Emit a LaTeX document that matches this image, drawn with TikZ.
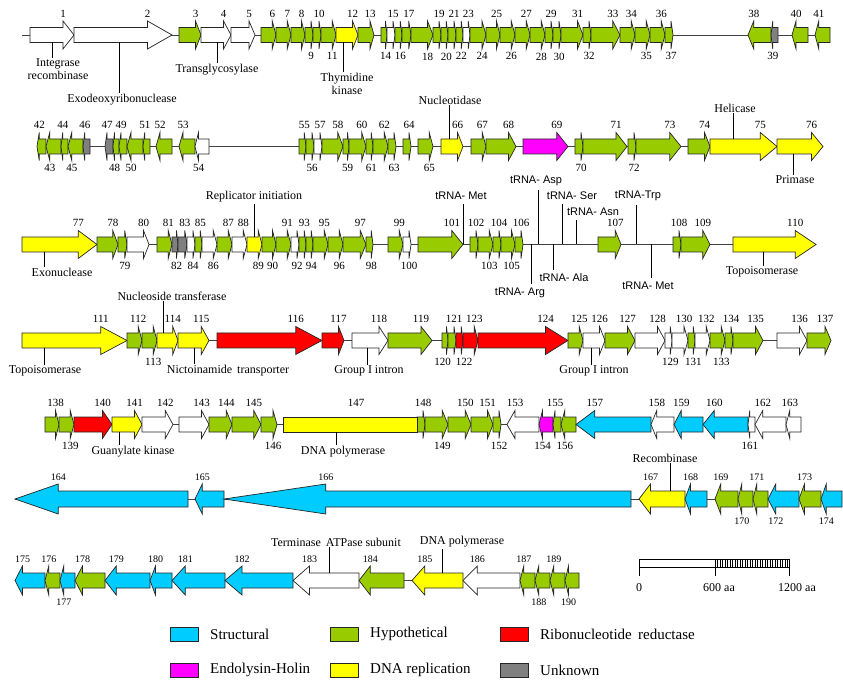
\documentclass[tikz,border=0pt]{standalone}
\usepackage{fontspec}
\setmainfont{Liberation Serif}
\newfontfamily\arialf{Liberation Sans}
\definecolor{gG}{HTML}{99CC00}
\definecolor{gY}{HTML}{FFFF00}
\definecolor{gR}{HTML}{FF0000}
\definecolor{gM}{HTML}{FF00FF}
\definecolor{gK}{HTML}{808080}
\definecolor{gC}{HTML}{00CCFF}
\definecolor{gW}{HTML}{FFFFFF}
\newcommand\rowy{0}
\newcommand\bodyh{7.5}
\newcommand\headh{14}
\newcommand\labgap{3}
\newcommand\numfont{\fontsize{11}{12}\selectfont}
\newcommand\gene[6]{%
  \pgfmathsetmacro\gHd{0.25*(#2-#1)}%
  \if#4r\pgfmathsetmacro\gB{#2-\gHd}\pgfmathsetmacro\gS{#1}\pgfmathsetmacro\gT{#2}%
  \else\pgfmathsetmacro\gB{#1+\gHd}\pgfmathsetmacro\gS{#2}\pgfmathsetmacro\gT{#1}\fi
  \draw[genebox,fill=#3] (\gS,\rowy-\bodyh) -- (\gB,\rowy-\bodyh) -- (\gB,\rowy-\headh) -- (\gT,\rowy) -- (\gB,\rowy+\headh) -- (\gB,\rowy+\bodyh) -- (\gS,\rowy+\bodyh) -- cycle;
  \if#6a\node[num,anchor=south] (n#5) at (\gB,\rowy-\headh-\labgap) {#5};\fi
  \if#6b\node[num,anchor=north] (n#5) at (\gB,\rowy+\headh+\labgap) {#5};\fi
}
\begin{document}
\begin{tikzpicture}[x=1pt,y=-1pt,
  genebox/.style={draw=black!85,line width=0.7pt,line join=miter},
  num/.style={font=\numfont,inner sep=0.5pt},
  ann/.style={font=\fontsize{12}{13}\selectfont,inner sep=1pt,align=center},
  trna/.style={font=\arialf\fontsize{11}{12}\selectfont,inner sep=1pt},
  lead/.style={draw=black,line width=0.7pt},
  bb/.style={draw=black!75,line width=0.8pt},
  leg/.style={font=\fontsize{15}{16}\selectfont,anchor=west,inner sep=0pt},
  legbox/.style={draw=black!85,line width=0.7pt}]
\fill[white] (0,0) rectangle (843,684);
\useasboundingbox (0,0) rectangle (843,684);

% ---------- Row 1 ----------
\renewcommand\rowy{35}
\draw[bb] (22,\rowy) -- (830,\rowy);
\foreach \ga/\gb/\gc/\gd/\gn/\gp in {30/74/gW/r/1/a, 74/172/gW/r/2/a, 179/201/gG/r/3/a, 201/231/gW/r/4/a, 231/255/gW/r/5/a, 261/276/gG/r/6/a, 276/291/gG/r/7/a, 291/305/gG/r/8/a, 305/313/gG/r/9/b, 313/321/gG/r/10/a, 321/336/gG/r/11/b, 336/358/gY/r/12/a, 358/374/gG/r/13/a, 381/387/gG/r/14/b, 387/395/gW/r/15/a, 395/402/gG/r/16/b, 402/411/gG/r/17/a, 411/433/gG/r/18/b, 433/441/gG/r/19/a, 441/448/gG/r/20/b, 448/456/gG/r/21/a, 456/463/gG/r/22/b, 463/470/gW/r/23/a, 470/486/gG/r/24/b, 486/500/gG/r/25/a, 500/515/gG/r/26/b, 515/530/gG/r/27/a, 530/545/gG/r/28/b, 545/553/gG/r/29/a, 553/561/gG/r/30/b, 561/583/gG/r/31/a, 583/591/gG/r/32/b, 591/620/gG/r/33/a, 620/635/gG/r/34/a, 635/650/gG/r/35/b, 650/665/gG/r/36/a, 665/673/gG/r/37/b, 748/771/gG/l/38/a, 771/778/gK/l/39/b, 792/808/gG/l/40/a, 815/830/gG/l/41/a}
  {\gene{\ga}{\gb}{\gc}{\gd}{\gn}{\gp}}

\node[ann] (intg) at (58,69.5) {Integrase\\recombinase};
\coordinate (intgA) at (52,42.5);
\draw[lead] (intgA) -- (intgA |- intg.north);
\node[ann] (exod) at (122,100) {Exodeoxyribonuclease};
\coordinate (exodA) at (119,42.5);
\draw[lead] (exodA) -- (exodA |- exod.north);
\node[ann] (trgl) at (217,70) {Transglycosylase};
\coordinate (trglA) at (217,42.5);
\draw[lead] (trglA) -- (trglA |- trgl.north);
\node[ann] (thym) at (347,84) {Thymidine\\kinase};
\coordinate (thymA) at (343,42.5);
\draw[lead] (thymA) -- (thymA |- thym.north);

% ---------- Row 2 ----------
\renewcommand\rowy{146.5}
\draw[bb] (37,\rowy) -- (823,\rowy);
\foreach \ga/\gb/\gc/\gd/\gn/\gp in {37/46/gG/l/42/a, 46/61/gG/l/43/b, 61/68/gG/l/44/a, 68/83/gG/l/45/b, 83/90/gK/l/46/a, 105/113/gK/l/47/a, 113/119/gG/l/48/b, 119/127/gG/l/49/a, 127/143/gG/l/50/b, 143/150/gG/l/51/a, 156/172/gG/l/52/a, 179/195/gG/l/53/a, 195/209/gW/l/54/b, 299/306/gG/r/55/a, 306/314/gG/r/56/b, 314/322/gW/r/57/a, 322/343/gG/r/58/a, 343/349/gG/r/59/b, 349/366/gG/r/60/a, 366/373/gG/r/61/b, 373/388/gG/r/62/a, 388/396/gG/r/63/b, 403/411/gG/r/64/a, 418/433/gG/r/65/b, 441/463/gY/r/66/a, 471/486/gG/r/67/a, 486/516/gG/r/68/a, 523/568/gM/r/69/a, 575/583/gG/r/70/b, 583/627/gG/r/71/a, 628/636/gG/r/72/b, 636/681/gG/r/73/a, 688/710/gG/r/74/a, 710/777/gY/r/75/a, 777/823/gY/r/76/a}
  {\gene{\ga}{\gb}{\gc}{\gd}{\gn}{\gp}}

\node[ann] (nucl) at (450,100) {Nucleotidase};
\coordinate (nuclA) at (449,139);
\draw[lead] (nuclA) -- (nuclA |- nucl.south);
\node[ann] (heli) at (735,108) {Helicase};
\coordinate (heliA) at (733,139);
\draw[lead] (heliA) -- (heliA |- heli.south);
\node[ann] (prim) at (795,180) {Primase};
\coordinate (primA) at (793,154);
\draw[lead] (primA) -- (primA |- prim.north);

% ---------- Row 3 ----------
\renewcommand\rowy{244.5}
\draw[bb] (22,\rowy) -- (816,\rowy);
\foreach \ga/\gb/\gc/\gd/\gn/\gp in {22/97/gY/r/77/a, 97/118/gG/r/78/a, 118/127/gG/r/79/b, 127/149/gW/r/80/a, 157/172/gG/r/81/a, 172/178/gK/r/82/b, 178/187/gK/r/83/a, 187/195/gW/r/84/b, 195/202/gG/r/85/a, 202/217/gW/r/86/b, 217/232/gG/r/87/a, 232/247/gW/r/88/a, 247/262/gY/r/89/b, 262/276/gG/r/90/b, 276/291/gG/r/91/a, 291/299/gW/r/92/b, 299/306/gG/r/93/a, 306/313/gG/r/94/b, 313/328/gG/r/95/a, 328/343/gG/r/96/b, 343/366/gG/r/97/a, 366/373/gG/r/98/b, 388/403/gG/r/99/a, 403/411/gW/r/100/b, 418/463/gG/r/101/a, 470/478/gG/r/102/a, 478/493/gG/r/103/b, 493/501/gG/r/104/a, 501/515/gG/r/105/b, 515/523/gG/r/106/a, 598/621/gG/r/107/a, 673/681/gG/r/108/a, 681/710/gG/r/109/a, 733/816/gY/r/110/a}
  {\gene{\ga}{\gb}{\gc}{\gd}{\gn}{\gp}}

\node[ann] (exon) at (62,272) {Exonuclease};
\coordinate (exonA) at (44,252);
\draw[lead] (exonA) -- (exonA |- exon.north);
\node[ann] (repl) at (254,197) {Replicator initiation};
\coordinate (replA) at (254,237);
\draw[lead] (replA) -- (replA |- repl.south);
\node[ann] (topo1) at (762,272) {Topoisomerase};
\coordinate (topo1A) at (763,252);
\draw[lead] (topo1A) -- (topo1A |- topo1.north);

\node[trna] (tmet1) at (461,196) {tRNA- Met};
\coordinate (tmet1A) at (463,244.5);
\draw[lead] (tmet1A) -- ([yshift=-3pt]tmet1A |- tmet1.south);
\node[trna] (tasp) at (536,181) {tRNA- Asp};
\coordinate (taspA) at (538,244.5);
\draw[lead] (taspA) -- ([yshift=-3pt]taspA |- tasp.south);
\node[trna] (targ) at (520,293) {tRNA- Arg};
\coordinate (targA) at (531,244.5);
\draw[lead] (targA) -- ([yshift=3pt]targA |- targ.north);
\node[trna] (tser) at (572,196) {tRNA- Ser};
\coordinate (tserA) at (562,244.5);
\draw[lead] (tserA) -- ([yshift=-3pt]tserA |- tser.south);
\node[trna] (tala) at (564,278) {tRNA- Ala};
\coordinate (talaA) at (553,244.5);
\draw[lead] (talaA) -- ([yshift=3pt]talaA |- tala.north);
\node[trna] (tasn) at (593,212) {tRNA- Asn};
\coordinate (tasnA) at (576,244.5);
\draw[lead] (tasnA) -- ([yshift=-3pt]tasnA |- tasn.south);
\node[trna] (ttrp) at (638,196) {tRNA-Trp};
\coordinate (ttrpA) at (636,244.5);
\draw[lead] (ttrpA) -- ([yshift=-3pt]ttrpA |- ttrp.south);
\node[trna] (tmet2) at (648,286) {tRNA- Met};
\coordinate (tmet2A) at (651,244.5);
\draw[lead] (tmet2A) -- ([yshift=3pt]tmet2A |- tmet2.north);

% ---------- Row 4 ----------
\renewcommand\rowy{340.5}
\draw[bb] (22,\rowy) -- (831,\rowy);
\foreach \ga/\gb/\gc/\gd/\gn/\gp in {22/127/gY/r/111/a, 127/142/gG/r/112/a, 142/157/gG/r/113/b, 157/178/gY/r/114/a, 178/209/gY/r/115/a, 217/322/gR/r/116/a, 322/344/gR/r/117/a, 352/388/gW/r/118/a, 388/432/gG/r/119/a, 442/448/gG/r/120/n, 448/456/gG/r/121/a, 456/463/gR/r/122/n, 463/478/gR/r/123/a, 478/568/gR/r/124/a, 568/583/gG/r/125/a, 583/605/gW/r/126/a, 605/635/gG/r/127/a, 635/665/gW/r/128/a, 665/672/gW/r/129/b, 672/688/gW/r/130/a, 688/695/gG/r/131/b, 695/710/gW/r/132/a, 710/725/gG/r/133/b, 725/733/gG/r/134/a, 733/763/gG/r/135/a, 777/807/gW/r/136/a, 807/831/gG/r/137/a}
  {\gene{\ga}{\gb}{\gc}{\gd}{\gn}{\gp}}
\node[num,anchor=north] (n120) at (442.5,\rowy+\headh+\labgap) {120};
\node[num,anchor=north] (n122) at (464,\rowy+\headh+\labgap) {122};

\node[ann] (topo2) at (45,371) {Topoisomerase};
\coordinate (topo2A) at (44,348);
\draw[lead] (topo2A) -- (topo2A |- topo2.north);
\node[ann] (nstr) at (172,296) {Nucleoside transferase};
\coordinate (nstrA) at (163,333);
\draw[lead] (nstrA) -- (nstrA |- nstr.south);
\node[ann] (nict) at (228,371) {Nictoinamide\, transporter};
\coordinate (nictA) at (194,348);
\draw[lead] (nictA) -- (nictA |- nict.north);
\node[ann] (gi1) at (369,371) {Group I intron};
\coordinate (gi1A) at (367,348);
\draw[lead] (gi1A) -- (gi1A |- gi1.north);
\node[ann] (gi2) at (594,371) {Group I intron};
\coordinate (gi2A) at (591,348);
\draw[lead] (gi2A) -- (gi2A |- gi2.north);

% ---------- Row 5 ----------
\renewcommand\rowy{424.5}
\draw[bb] (45,\rowy) -- (801,\rowy);
\foreach \ga/\gb/\gc/\gd/\gn/\gp in {45/59/gG/r/138/a, 59/74/gG/r/139/b, 74/112/gR/r/140/a, 112/142/gY/r/141/a, 142/173/gW/r/142/a, 179/209/gW/r/143/a, 209/232/gG/r/144/a, 232/261/gG/r/145/a, 261/277/gG/r/146/b, 417/425/gG/r/148/a, 425/448/gG/r/149/b, 448/471/gG/r/150/a, 471/493/gG/r/151/a, 493/501/gG/r/152/b, 507/539/gW/l/153/a, 539/553/gM/l/154/b, 553/561/gG/l/155/a, 561/576/gG/l/156/b, 576/651/gC/l/157/a, 651/674/gW/l/158/a, 674/703/gC/l/159/a, 703/748/gC/l/160/a, 748/755/gW/l/161/b, 755/786/gW/l/162/a, 786/801/gW/l/163/a}
  {\gene{\ga}{\gb}{\gc}{\gd}{\gn}{\gp}}
\draw[genebox,fill=gY] (283,\rowy-\bodyh) rectangle (417,\rowy+\bodyh);
\node[num,anchor=south] (n147) at (356,\rowy-\headh-\labgap) {147};

\node[ann] (guan) at (133,452) {Guanylate kinase};
\coordinate (guanA) at (119,432);
\draw[lead] (guanA) -- (guanA |- guan.north);
\node[ann] (dnap1) at (343,452) {DNA polymerase};
\coordinate (dnap1A) at (336,432);
\draw[lead] (dnap1A) -- (dnap1A |- dnap1.north);
\node[ann] (reco) at (665,458) {Recombinase};

% ---------- Row 6 ----------
\renewcommand\rowy{499}
\renewcommand\bodyh{8}
\renewcommand\headh{15}
\renewcommand\numfont{\fontsize{10}{11}\selectfont}
\draw[bb] (15,\rowy) -- (842,\rowy);
\foreach \ga/\gb/\gc/\gd/\gn/\gp in {15/188/gC/l/164/a, 195/224/gC/l/165/a, 224/631/gC/l/166/a, 639/685/gY/l/167/a, 685/707/gC/l/168/a, 715/738/gG/l/169/a, 738/753/gG/l/170/b, 753/768/gG/l/171/a, 768/799/gC/l/172/b, 799/821/gG/l/173/a, 821/842/gC/l/174/b}
  {\gene{\ga}{\gb}{\gc}{\gd}{\gn}{\gp}}
\coordinate (recoA) at (670,491);
\draw[lead] (recoA) -- (recoA |- reco.south);

% ---------- Row 7 ----------
\renewcommand\rowy{580.5}
\renewcommand\bodyh{7.5}
\renewcommand\headh{14.5}
\draw[bb] (15,\rowy) -- (579,\rowy);
\foreach \ga/\gb/\gc/\gd/\gn/\gp in {15/45/gC/l/175/a, 45/60/gG/l/176/a, 60/75/gC/l/177/b, 75/105/gG/l/178/a, 105/150/gC/l/179/a, 150/172/gC/l/180/a, 172/225/gC/l/181/a, 225/293/gC/l/182/a, 293/359/gW/l/183/a, 359/404/gG/l/184/a, 412/463/gY/l/185/a, 463/520/gW/l/186/a, 520/535/gG/l/187/a, 535/550/gG/l/188/b, 550/565/gG/l/189/a, 565/579/gG/l/190/b}
  {\gene{\ga}{\gb}{\gc}{\gd}{\gn}{\gp}}

\node[ann] (term) at (336,542) {Terminase\, ATPase subunit};
\coordinate (termA) at (329,573);
\draw[lead] (termA) -- (termA |- term.south);
\node[ann] (dnap2) at (462,542) {DNA polymerase};
\coordinate (dnap2A) at (442,573);
\draw[lead] (dnap2A) -- (dnap2A |- dnap2.south);

% ---------- Scale bar ----------
\draw[lead] (639,559) rectangle (789,567);
\foreach \x in {715,717.5,...,789} \draw[line width=0.6pt] (\x,559) -- (\x,567);
\coordinate (s0) at (639,567);
\coordinate (s6) at (715,567);
\coordinate (s12) at (789,567);
\draw[lead] (s0) -- ++(0,9);
\draw[lead] (s6) -- ++(0,9);
\draw[lead] (s12) -- ++(0,9);
\node[ann] (l0) at (639,588) {0};
\node[ann] (l6) at (719,588) {600 aa};
\node[ann] (l12) at (797,588) {1200 aa};

% ---------- Legend ----------
\draw[legbox,fill=gC] (170,627) rectangle (198,641);
\node[leg] (lst) at (210,634) {Structural};
\draw[legbox,fill=gG] (330,627) rectangle (358,641);
\node[leg] (lhy) at (370,634) {Hypothetical};
\draw[legbox,fill=gR] (500,627) rectangle (528,641);
\node[leg] (lrr) at (540,634) {Ribonucleotide\, reductase};
\draw[legbox,fill=gM] (170,663) rectangle (198,677);
\node[leg] (leh) at (210,670) {Endolysin-Holin};
\draw[legbox,fill=gY] (330,663) rectangle (358,677);
\node[leg] (ldr) at (370,670) {DNA replication};
\draw[legbox,fill=gK] (500,663) rectangle (528,677);
\node[leg] (lun) at (540,670) {Unknown};
\end{tikzpicture}
\end{document}
